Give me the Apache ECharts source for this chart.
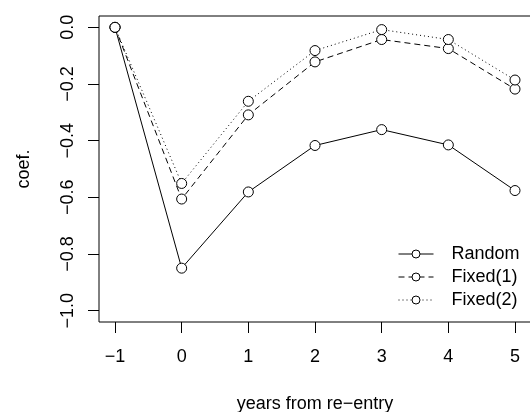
<!DOCTYPE html>
<html>
<head>
<meta charset="utf-8">
<script src="https://cdn.jsdelivr.net/npm/echarts@6/dist/echarts.min.js"></script>
<style>
  html, body { margin: 0; padding: 0; background: #fff; }
  #chart { width: 530px; height: 412px; }
</style>
</head>
<body>
<div id="chart"></div>
<script>
// years from re-entry
var years = [-1, 0, 1, 2, 3, 4, 5];
// coefficients
var randomCoef = [0.0, -0.850, -0.581, -0.417, -0.361, -0.415, -0.576];
var fixed1Coef = [0.0, -0.606, -0.309, -0.122, -0.043, -0.075, -0.218];
var fixed2Coef = [0.0, -0.551, -0.261, -0.082, -0.008, -0.043, -0.186];
var yTicks = [-1.0, -0.8, -0.6, -0.4, -0.2, 0.0];

var FONT = 'Liberation Sans, Arial, Helvetica, sans-serif';
var FS = 18;

function pairs(xs, ys) {
	var out = [];
	for (var i = 0; i < xs.length; i++) out.push([xs[i], ys[i]]);
	return out;
}

// R 风格的负号
function minus(s) {
	return String(s).replace('-', '\u2212');
}

var markStyle = { color: '#fff', borderColor: '#000', borderWidth: 1 };

function mkSeries(name, data, dash) {
	return {
		name: name,
		type: 'line',
		data: pairs(years, data),
		symbol: 'circle',
		symbolSize: 10,
		showSymbol: true,
		showAllSymbol: true,
		animation: false,
		itemStyle: markStyle,
		lineStyle: { color: '#000', width: 1, type: dash }
	};
}

var myChart = echarts.init(document.getElementById('chart'));
myChart.setOption({
	animation: false,
	grid: {
		show: true, left: 99, top: 16, right: -1, bottom: 90,
		outerBoundsMode: 'none', containLabel: false,
		borderColor: '#000', borderWidth: 1, backgroundColor: 'transparent'
	},
	legend: {
		orient: 'vertical', left: 398, top: 245, padding: 0,
		itemWidth: 35, itemHeight: 10, itemGap: 5,
		textStyle: { fontFamily: FONT, fontSize: FS, color: '#000', padding: [0, 0, 0, 13] },
		data: [
			{ name: 'Random', itemStyle: markStyle, lineStyle: { type: 'solid', width: 1 } },
			{ name: 'Fixed(1)', itemStyle: markStyle, lineStyle: { type: [6, 4], width: 1 } },
			{ name: 'Fixed(2)', itemStyle: markStyle, lineStyle: { type: [1, 3], width: 1 } }
		]
	},
	xAxis: {
		type: 'value', min: -1.24, max: 5.24,
		name: 'years from re\u2212entry', nameLocation: 'middle', nameGap: 73,
		nameTextStyle: { fontFamily: FONT, fontSize: FS, color: '#000' },
		axisLine: { show: false, onZero: false },
		splitLine: { show: false },
		axisTick: { show: true, length: 11, customValues: years, lineStyle: { color: '#000' } },
		axisLabel: {
			customValues: years, margin: 26, fontFamily: FONT, fontSize: FS, color: '#000',
			formatter: function (v) { return minus(v); }
		}
	},
	yAxis: {
		type: 'value', min: -1.04, max: 0.04,
		name: 'coef.', nameLocation: 'middle', nameGap: 66, nameRotate: 90,
		nameTextStyle: { fontFamily: FONT, fontSize: FS, color: '#000' },
		axisLine: { show: false, onZero: false },
		splitLine: { show: false },
		axisTick: { show: true, length: 11, customValues: yTicks, lineStyle: { color: '#000' } },
		axisLabel: {
			customValues: yTicks, rotate: 90, margin: 22, fontFamily: FONT, fontSize: FS, color: '#000',
			formatter: function (v) { return minus(v.toFixed(1)); }
		}
	},
	series: [
		mkSeries('Random', randomCoef, 'solid'),
		mkSeries('Fixed(1)', fixed1Coef, [6, 4]),
		mkSeries('Fixed(2)', fixed2Coef, [1, 3])
	]
});
</script>
</body>
</html>
